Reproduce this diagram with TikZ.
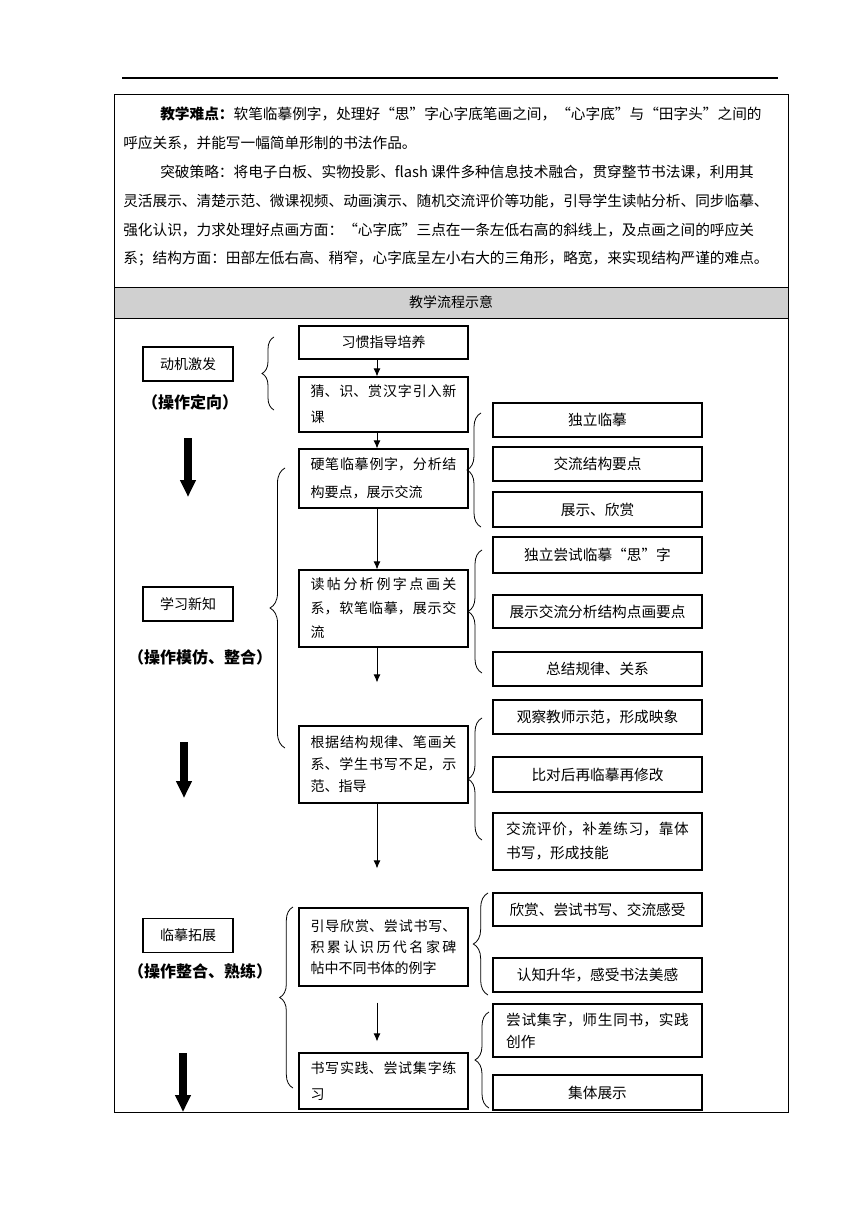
\documentclass[tikz,border=0pt]{standalone}
\usepackage{fontspec}
\setmainfont{Noto Sans CJK SC}
\usetikzlibrary{arrows.meta,decorations.pathreplacing}
\XeTeXlinebreaklocale "zh"
\XeTeXlinebreakskip=0pt plus 2pt
\definecolor{hdr}{RGB}{208,208,208}
\begin{document}
\begin{tikzpicture}[x=0.75pt,y=-0.75pt,
  box/.style={draw,line width=0.8pt,inner sep=0pt},
  mb/.style={box,minimum width=126.75pt,font=\fontsize{10.5}{13}\selectfont},
  mbt/.style={box,text width=109.5pt,inner xsep=8.625pt,inner ysep=0pt,align=justify,font=\fontsize{10.5}{#1}\selectfont},
  rb/.style={box,minimum width=156.75pt,minimum height=25.5pt,font=\fontsize{11}{13}\selectfont},
  rbt/.style={box,text width=137pt,inner xsep=9.875pt,inner ysep=0pt,align=justify,font=\fontsize{11}{#1}\selectfont},
  lb/.style={box,minimum width=67.5pt,minimum height=25.5pt,font=\fontsize{10.5}{13}\selectfont},
  lab/.style={inner sep=0pt,font=\bfseries\fontsize{12}{14}\selectfont},
  pl/.style={anchor=west,inner sep=0pt,align=justify,font=\fontsize{11}{14}\selectfont},
  arr/.style={line width=0.75pt,-{Latex[length=6pt,width=5.25pt]}},
  big/.style={line width=6pt,-{Triangle[length=12.75pt,width=11.25pt]}},
  brc/.style={decorate,decoration={brace,amplitude=#1},line width=0.6pt}
]
\useasboundingbox (0,0) rectangle (860,1216);
% page rule and table
\draw[line width=1pt] (122,78) -- (778,78);
\draw[line width=0.75pt] (114,95) rectangle (788,1112);
% top paragraphs
\node[pl,text width=463.5pt] (p1) at (160,114) {\parfillskip=0pt {\bfseries 教学难点：}软笔临摹例字，处理好“思”字心字底笔画之间，“心字底”与“田字头”之间的};
\node[anchor=west,inner sep=0pt,font=\fontsize{11}{14}\selectfont] (p2) at (123,143) {呼应关系，并能写一幅简单形制的书法作品。};
\node[pl,text width=463.5pt] (p3) at (160,172) {\parfillskip=0pt 突破策略：将电子白板、实物投影、flash 课件多种信息技术融合，贯穿整节书法课，利用其};
\node[pl,text width=491.25pt] (p4) at (123,201) {\parfillskip=0pt 灵活展示、清楚示范、微课视频、动画演示、随机交流评价等功能，引导学生读帖分析、同步临摹、};
\node[pl,text width=491.25pt] (p5) at (123,230) {\parfillskip=0pt 强化认识，力求处理好点画方面：“心字底”三点在一条左低右高的斜线上，及点画之间的呼应关};
\node[pl,text width=491.25pt] (p6) at (123,258) {\parfillskip=0pt 系；结构方面：田部左低右高、稍窄，心字底呈左小右大的三角形，略宽，来实现结构严谨的难点。};
% header
\node[draw,fill=hdr,line width=0.75pt,minimum width=505.5pt,minimum height=23.25pt,inner sep=0pt,font=\fontsize{10.5}{13}\selectfont] (hd) at (451,302.5) {教学流程示意};
% left column
\node[lb] (l1) at (188,364) {动机激发};
\node[lab] (t1) at (190,402) {（操作定向）};
\node[lb] (l2) at (188,604) {学习新知};
\node[lab] (t2) at (200,657) {（操作模仿、整合）};
\node[lb] (l3) at (188,935.5) {临摹拓展};
\node[lab] (t3) at (200,971) {（操作整合、熟练）};
\coordinate (A1s) at (188,438); \coordinate (A1e) at (188,497);
\coordinate (A2s) at (184,742); \coordinate (A2e) at (184,798);
\coordinate (A3s) at (183,1053); \coordinate (A3e) at (183,1112);
\draw[big] (A1s) -- (A1e);
\draw[big] (A2s) -- (A2e);
\draw[big] (A3s) -- (A3e);
% middle column
\node[mb,minimum height=24.75pt] (m1) at (383.5,342.5) {习惯指导培养};
\node[mbt=19.5pt,minimum height=41.25pt] (m2) at (383.5,404.5) {猜、识、赏汉字引入新\linebreak 课};
\node[mbt=21pt,minimum height=44.25pt] (m3) at (383.5,478.5) {硬笔临摹例字，分析结\linebreak 构要点，展示交流};
\node[mbt=18pt,minimum height=57.75pt] (m4) at (383.5,608.5) {读帖分析例字点画关\linebreak 系，软笔临摹，展示交\linebreak 流};
\node[mbt=16.5pt,minimum height=57.75pt] (m5) at (383.5,764.5) {根据结构规律、笔画关\linebreak 系、学生书写不足，示\linebreak 范、指导};
\node[mbt=15.75pt,minimum height=58.5pt] (m6) at (383.5,947) {\parfillskip=0pt 引导欣赏、尝试书写、\linebreak 积累认识历代名家碑\linebreak 帖中不同书体的例字};
\node[mbt=19.5pt,minimum height=42pt] (m7) at (383.5,1081) {书写实践、尝试集字练\linebreak 习};
\coordinate (ax) at (377,0);
\draw[arr] (m1.south -| ax) -- (m2.north -| ax);
\draw[arr] (m2.south -| ax) -- (m3.north -| ax);
\draw[arr] (m3.south -| ax) -- (m4.north -| ax);
\draw[arr,shorten >=32.25pt] (m4.south -| ax) -- (m5.north -| ax);
\draw[arr,shorten >=29.25pt] (m5.south -| ax) -- (m6.north -| ax);
\draw[arr,shorten <=12pt,shorten >=8.25pt] (m6.south -| ax) -- (m7.north -| ax);
% right column
\node[rb] (r1) at (597.5,420) {独立临摹};
\node[rb] (r2) at (597.5,464) {交流结构要点};
\node[rb,minimum height=26.25pt] (r3) at (597.5,509.5) {展示、欣赏};
\node[rb,minimum height=27pt] (r4) at (597.5,555) {独立尝试临摹“思”字};
\node[rb,minimum height=24.75pt] (r5) at (597.5,611.5) {展示交流分析结构点画要点};
\node[rb] (r6) at (597.5,669) {总结规律、关系};
\node[rb] (r7) at (597.5,717) {观察教师示范，形成映象};
\node[rb,minimum height=26.25pt] (r8) at (597.5,774.5) {比对后再临摹再修改};
\node[rbt=18pt,minimum height=42.75pt] (r9) at (597.5,841.5) {交流评价，补差练习，靠体\linebreak 书写，形成技能};
\node[rb,minimum height=24.75pt] (r10) at (597.5,909.5) {欣赏、尝试书写、交流感受};
\node[rb] (r11) at (597.5,975) {认知升华，感受书法美感};
\node[rbt=16.5pt,minimum height=39.75pt] (r12) at (597.5,1030.5) {尝试集字，师生同书，实践\linebreak 创作};
\node[rb,minimum height=26.25pt] (r13) at (597.5,1092.5) {集体展示};
% braces
\draw[brc=9pt] (274,410) -- (274,337);
\draw[brc=11.25pt] (285,748) -- (285,468);
\draw[brc=10.5pt] (481,527) -- (481,413);
\draw[brc=10.5pt] (482,673) -- (482,550);
\draw[brc=10.5pt] (482,840) -- (482,718);
\draw[brc=11pt] (488,995) -- (488,893);
\draw[brc=10.5pt] (489,1108) -- (489,1012);
\draw[brc=10pt] (293,1088) -- (293,907);
\end{tikzpicture}
\end{document}
